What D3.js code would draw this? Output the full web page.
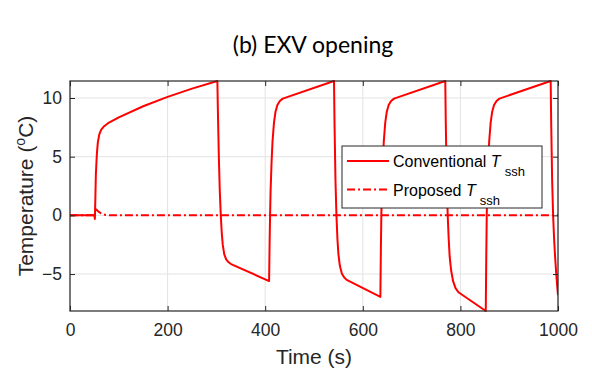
<!DOCTYPE html>
<html>
<head>
<meta charset="utf-8">
<script src="https://cdn.jsdelivr.net/npm/d3@7"></script>
<style>
  body { margin: 0; background: #fff; }
  svg { display: block; }
</style>
</head>
<body>
<div id="graph"></div>
<script>
// values
var convTime = [0, 50, 51, 52, 53, 55, 57, 60, 64, 70, 78, 100, 150, 200, 250, 302,
  303, 305, 307, 309, 311, 313, 316, 320, 325, 330, 408,
  409, 410, 411, 413, 415, 418, 421, 425, 430, 436, 541,
  542, 544, 546, 548, 550, 553, 557, 562, 567, 636,
  637, 638, 639, 641, 643, 646, 649, 653, 658, 664, 769,
  770, 772, 774, 776, 778, 781, 785, 790, 796, 852,
  853, 854, 855, 857, 859, 862, 865, 869, 874, 880, 985,
  986, 988, 990, 992, 994, 997, 1000];
var convTemp = [0, 0, -0.3, 1.5, 3.5, 5.2, 6.2, 6.9, 7.3, 7.6, 7.85, 8.35, 9.3, 10.1, 10.8, 11.45,
  9, 5, 2, 0, -1.5, -2.5, -3.3, -3.75, -4.0, -4.15, -5.6,
  -2.5, 0, 2, 4.5, 6.3, 7.9, 8.8, 9.4, 9.75, 9.95, 11.45,
  8, 3, 0, -2, -3.3, -4.3, -4.95, -5.3, -5.5, -6.95,
  -3, 0, 2, 4.5, 6.3, 7.9, 8.8, 9.4, 9.75, 9.95, 11.45,
  8, 3, 0, -2, -3.5, -4.7, -5.6, -6.2, -6.55, -8.15,
  -3.5, 0, 2, 4.5, 6.3, 7.9, 8.8, 9.4, 9.75, 9.95, 11.45,
  8, 3, 0, -2, -3.5, -5.3, -6.8];

var propTime = [0, 50, 51, 52, 54, 57, 60, 64, 68, 73, 80, 90, 1000];
var propTemp = [0, 0, -0.1, 0.5, 0.5, 0.38, 0.27, 0.16, 0.09, 0.04, 0.01, 0, 0];

var xTicks = [0, 200, 400, 600, 800, 1000];
var yTicks = [-5, 0, 5, 10];

var seriesNames = ["Conventional", "Proposed"];

var font = '"Liberation Sans", Arial, Helvetica, sans-serif';
var width = 592, height = 375;
var margin = {top: 81, right: 34, bottom: 64, left: 70};
var w = width - margin.left - margin.right;
var h = height - margin.top - margin.bottom;

var svg = d3.select('#graph').append('svg')
  .attr('width', width)
  .attr('height', height)
  .attr('font-family', font);

var x = d3.scaleLinear().domain([0, 1000]).range([0, w]);
var y = d3.scaleLinear().domain([-8.15, 11.45]).range([h, 0]);

var g = svg.append('g').attr('transform', 'translate(' + margin.left + ',' + margin.top + ')');

// grid
g.append('g').selectAll('line').data(xTicks).enter().append('line')
  .attr('x1', d => x(d)).attr('x2', d => x(d))
  .attr('y1', 0).attr('y2', h)
  .attr('stroke', '#e3e3e3').attr('stroke-width', 1);
g.append('g').selectAll('line').data(yTicks).enter().append('line')
  .attr('x1', 0).attr('x2', w)
  .attr('y1', d => y(d)).attr('y2', d => y(d))
  .attr('stroke', '#e3e3e3').attr('stroke-width', 1);

// lines
var conv = convTime.map((t, i) => [t, convTemp[i]]);
var prop = propTime.map((t, i) => [t, propTemp[i]]);
var line = d3.line().x(d => x(d[0])).y(d => y(d[1]));

g.append('clipPath').attr('id', 'clip').append('rect')
  .attr('x', 0).attr('y', -1).attr('width', w).attr('height', h + 2);

g.append('path').datum(prop)
  .attr('d', line)
  .attr('fill', 'none').attr('stroke', '#ff0000').attr('stroke-width', 2)
  .attr('stroke-dasharray', '8,3,2,3');
g.append('path').datum(conv)
  .attr('d', line)
  .attr('fill', 'none').attr('stroke', '#ff0000').attr('stroke-width', 2)
  .attr('stroke-linejoin', 'round')
  .attr('clip-path', 'url(#clip)');

// axes
function styleAxis(sel) {
  sel.attr('font-family', font).attr('font-size', 17.5);
  sel.select('.domain').remove();
  sel.selectAll('.tick line').attr('stroke', '#262626');
  sel.selectAll('.tick text').attr('fill', '#262626');
}
g.append('g').attr('transform', 'translate(0,' + h + ')')
  .call(d3.axisBottom(x).tickValues(xTicks).tickSize(-5).tickPadding(13).tickFormat(d3.format('d')))
  .call(styleAxis);
g.append('g')
  .call(d3.axisTop(x).tickValues(xTicks).tickSize(-5).tickFormat(''))
  .call(styleAxis);
g.append('g')
  .call(d3.axisLeft(y).tickValues(yTicks).tickSize(-5).tickPadding(8))
  .call(styleAxis);
g.append('g').attr('transform', 'translate(' + w + ',0)')
  .call(d3.axisRight(y).tickValues(yTicks).tickSize(-5).tickFormat(''))
  .call(styleAxis);

g.append('rect').attr('width', w).attr('height', h)
  .attr('fill', 'none').attr('stroke', '#262626').attr('stroke-width', 1.2);

// labels
svg.append('text')
  .attr('x', margin.left + w / 2).attr('y', 364)
  .attr('text-anchor', 'middle').attr('fill', '#262626')
  .attr('font-size', 21).text('Time (s)');

var yl = svg.append('text')
  .attr('transform', 'translate(33,' + (margin.top + h / 2) + ') rotate(-90)')
  .attr('text-anchor', 'middle').attr('fill', '#262626')
  .attr('font-size', 21);
yl.append('tspan').text('Temperature (');
yl.append('tspan').attr('dy', -8).attr('font-size', 14).text('o');
yl.append('tspan').attr('dy', 8).text('C)');

svg.append('text')
  .attr('x', 313).attr('y', 53)
  .attr('text-anchor', 'middle').attr('fill', '#000')
  .attr('font-family', 'Lato, "Open Sans", sans-serif')
  .attr('font-size', 23).text('(b) EXV opening');

// legend
var leg = svg.append('g').attr('transform', 'translate(342,146)');
leg.append('rect').attr('width', 200).attr('height', 62)
  .attr('fill', '#fff').attr('stroke', '#262626').attr('stroke-width', 1);
var rows = leg.selectAll('g.row').data(seriesNames).enter().append('g')
  .attr('transform', (d, i) => 'translate(0,' + (15 + i * 28.5) + ')');
rows.append('line')
  .attr('x1', 5).attr('x2', 47).attr('y1', 0).attr('y2', 0)
  .attr('stroke', '#ff0000').attr('stroke-width', 2)
  .attr('stroke-dasharray', (d, i) => i ? '8,3,2,3' : null);
var lt = rows.append('text').attr('x', 51).attr('y', 6)
  .attr('fill', '#000').attr('font-size', 16);
lt.append('tspan').text(d => d + ' ');
lt.append('tspan').attr('font-style', 'italic').text('T');
lt.append('tspan').attr('dx', 4).attr('dy', 9).attr('font-size', 13).text('ssh');
</script>
</body>
</html>
